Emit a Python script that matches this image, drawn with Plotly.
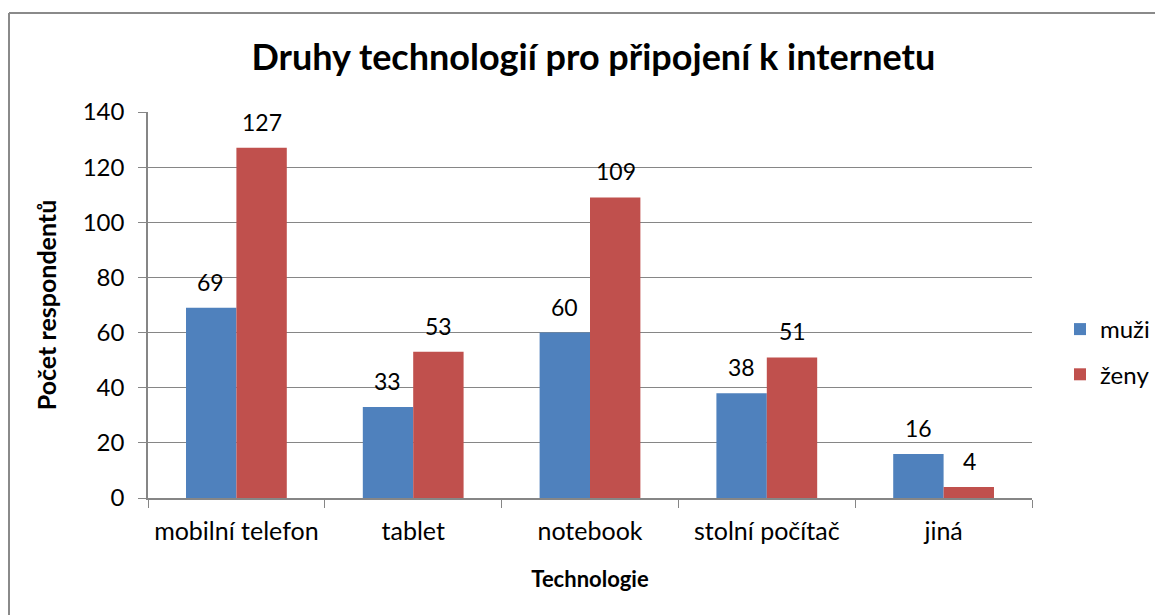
import plotly.graph_objects as go

categories = ["mobilní telefon", "tablet", "notebook", "stolní počítač", "jiná"]
muzi = [69, 33, 60, 38, 16]
zeny = [127, 53, 109, 51, 4]
series_names = ["muži", "ženy"]
colors = ["#4F81BD", "#C0504D"]
y_ticks = [0, 20, 40, 60, 80, 100, 120, 140]

FONT = "Lato"
fig = go.Figure()
for name, vals, col in zip(series_names, [muzi, zeny], colors):
    fig.add_trace(go.Bar(x=categories, y=vals, name=name, marker_color=col,
                         marker_line_width=0, legendgroup=name))

annotations = []
for vals, shift in [(muzi, -25.5), (zeny, 25.5)]:
    for c, v in zip(categories, vals):
        annotations.append(dict(x=c, y=v, text=str(v), showarrow=False, xshift=shift,
                                yshift=26, yanchor="middle",
                                font=dict(family=FONT, size=23, color="#000")))

# page body has an 8px margin, so the figure is drawn 8px in from the top-left
W, H = 1155, 607
L, R, T, B = 140, 131, 104, 117
pw, ph = W - L - R, H - T - B
px = lambda p: (p - L) / pw
py = lambda p: (H - B - p) / ph

shapes = [
    dict(type="line", xref="paper", yref="paper", x0=px(1), x1=px(1170), y0=py(5), y1=py(5),
         line=dict(color="#8a8a8a", width=2)),
    dict(type="line", xref="paper", yref="paper", x0=px(1), x1=px(1), y0=py(5), y1=py(620),
         line=dict(color="#8a8a8a", width=2)),
]

fig.update_layout(
    width=W, height=H,
    margin=dict(l=L, r=R, t=T, b=B, autoexpand=False),
    paper_bgcolor="white", plot_bgcolor="white",
    font=dict(family=FONT, size=24, color="#000"),
    title=dict(text="<b>Druhy technologií pro připojení k internetu</b>",
               x=px(588), xanchor="center", y=1 - 49 / H, yanchor="middle",
               font=dict(family=FONT, size=36, color="#000")),
    barmode="group", bargap=0.43, bargroupgap=0,
    legend=dict(x=px(1052), xanchor="left", y=py(344), yanchor="middle",
                font=dict(family=FONT, size=24), tracegroupgap=11,
                traceorder="grouped", bgcolor="rgba(0,0,0,0)", itemwidth=30),
    annotations=annotations,
    shapes=shapes,
    xaxis=dict(tickson="boundaries", ticks="outside", ticklen=8, tickcolor="#868686",
               showline=True, linecolor="#868686", linewidth=1.5, showgrid=False,
               tickfont=dict(family=FONT, size=25), ticklabelstandoff=10,
               title=dict(text="<b>Technologie</b>", font=dict(family=FONT, size=22), standoff=28)),
    yaxis=dict(range=[0, 140], tickvals=y_ticks, ticks="outside", ticklen=8, tickcolor="#868686",
               showline=True, linecolor="#868686", linewidth=1.5, showgrid=True,
               gridcolor="#868686", gridwidth=1, zeroline=False,
               tickfont=dict(family=FONT, size=24), ticklabelstandoff=9,
               title=dict(text="<b>Počet respondentů</b>", font=dict(family=FONT, size=25), standoff=19)),
)

fig.write_html("out.html")
